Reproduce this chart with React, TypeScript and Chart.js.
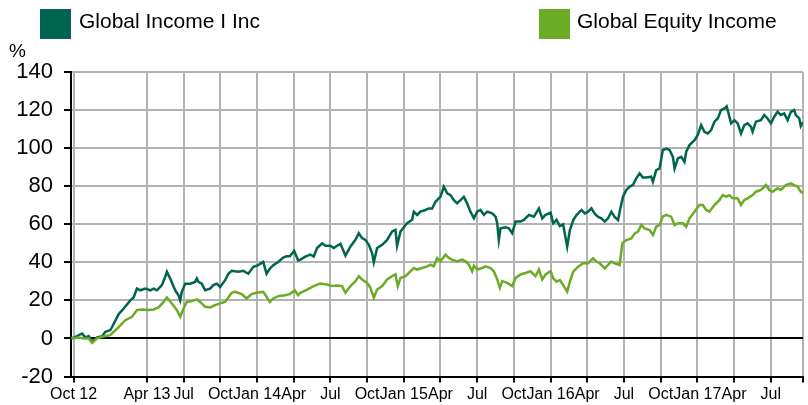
import React, { useEffect, useRef } from 'react';
import { Chart, registerables } from 'chart.js';

Chart.register(...registerables);

const seriesNames = ['Global Income I Inc', 'Global Equity Income'];
const seriesColors = ['#00654f', '#6cab25'];

// x values: months since start of Oct 2012
const tickMonths = [0, 6, 9, 12, 15, 18, 21, 24, 27, 30, 33, 36, 39, 42, 45, 48, 51, 54, 57];
const tickLabels = ['Oct 12', 'Apr 13', 'Jul', 'Oct', 'Jan 14', 'Apr', 'Jul', 'Oct', 'Jan 15', 'Apr', 'Jul', 'Oct', 'Jan 16', 'Apr', 'Jul', 'Oct', 'Jan 17', 'Apr', 'Jul'];
const xMin = -0.21;
const xMax = 59.64;
const yMin = -20;
const yMax = 140;
const yStep = 20;

const incomeMonths = [
  -0.17, 0.29, 0.7, 0.97, 1.24, 1.52, 1.92, 2.33, 2.6, 3.01, 3.15, 3.69, 4.1, 4.64, 4.91, 5.18, 5.46, 5.86, 6.27, 6.54,
  6.82, 7.22, 7.49, 7.63, 7.9, 8.31, 8.58, 8.72, 8.85, 9.13, 9.53, 9.94, 10.08, 10.21, 10.48, 10.76, 11.16, 11.43, 11.71, 11.98,
  12.39, 12.66, 12.93, 13.47, 13.88, 14.29, 14.7, 15.1, 15.51, 15.78, 16.05, 16.33, 16.73, 17.14, 17.41, 17.68, 18.04, 18.36,
  18.55, 18.95, 19.36, 19.64, 19.91, 20.32, 20.59, 21.0, 21.27, 21.55, 21.82, 22.23, 22.64, 23.05, 23.32, 23.59, 23.86, 24.14,
  24.41, 24.55, 24.82, 25.23, 25.64, 26.05, 26.32, 26.45, 26.73, 27.0, 27.27, 27.68, 27.82, 28.09, 28.36, 28.77, 29.05, 29.32,
  29.59, 29.86, 30.0, 30.27, 30.55, 30.82, 31.09, 31.36, 31.64, 31.91, 32.18, 32.45, 32.73, 33.0, 33.27, 33.55, 33.82, 34.23,
  34.5, 34.64, 34.77, 34.91, 35.32, 35.59, 35.86, 36.14, 36.55, 36.82, 37.23, 37.64, 38.05, 38.32, 38.59, 39.0,
  39.22, 39.49, 39.76, 40.03, 40.17, 40.36, 40.58, 40.85, 41.12, 41.53, 41.8, 42.07, 42.34, 42.61, 42.89, 43.16, 43.43, 43.7,
  43.97, 44.24, 44.52, 44.71, 44.92, 45.2, 45.47, 45.74, 46.01, 46.28, 46.55, 46.83, 47.23, 47.37, 47.64, 47.91, 48.18, 48.46,
  48.73, 49.0, 49.14, 49.41, 49.68, 49.95, 50.09, 50.36, 50.77, 51.04, 51.31, 51.58, 51.85, 52.13, 52.4, 52.67, 52.94, 53.21,
  53.4, 53.62, 53.76, 54.03, 54.3, 54.57, 54.84, 55.11, 55.39, 55.52, 55.79, 56.2, 56.47, 56.74, 57.02, 57.29, 57.56, 57.83,
  58.1, 58.38, 58.65, 58.92, 59.05, 59.33, 59.46, 59.62,
];
const incomeValues = [
  0, 1.2, 2.6, 0.5, 1.2, -1.7, 0.5, 1.2, 3.5, 4.4, 6, 12.8, 15.7, 20, 21.5, 26.2, 25.3, 26.2, 25.3, 26.2,
  25.3, 28, 32.3, 35, 31.5, 25.3, 22.7, 20, 24.5, 28.8, 28.8, 29.7, 31.5, 29.7, 28.8, 25.3, 26.2, 28, 28.8, 27,
  30.6, 34, 35.5, 35, 35.5, 34, 37.6, 38.5, 40.2, 34, 36.7, 38.5, 40.2, 42.5, 43.2, 43.2, 46, 41,
  41.4, 43, 44, 43.1, 47.5, 50, 48.7, 48.7, 47.5, 48.7, 49.7, 43.5, 48.3, 51.8, 55.3, 52.7, 51.8, 49.2,
  44.9, 40, 47.5, 49.2, 51.8, 56.2, 57, 48.7, 56.2, 58.4, 60.5, 62.3, 66.6, 64.9, 66.6, 67.5, 68.3, 68.3,
  71.8, 73.6, 74.4, 79.7, 76.2, 75.3, 72.7, 71, 72.7, 74.4, 71, 66.6, 63.1, 66.6, 67.5, 64.9, 66.6, 65.7,
  64, 60.5, 51.8, 57.9, 58.4, 57.9, 55.3, 61.4, 61.4, 62.3, 64.9, 64, 68.3, 63.1, 64.9, 66,
  60.5, 62.3, 59, 59.9, 54.9, 48.2, 57, 62.1, 64.8, 67.5, 65.7, 66.6, 68.4, 65.6, 63.9, 63.1, 61.4, 63.1,
  66.6, 63.9, 62.2, 68.4, 74.5, 78, 79.8, 80.7, 84.1, 86.7, 84.6, 84.6, 85, 82.3, 88.4, 89.3, 99, 99.8,
  99, 95.4, 89.3, 94.6, 95.4, 92.8, 98.1, 101.6, 104.2, 106.9, 112.1, 108.6, 107.7, 109.5, 113.9, 115.6, 120, 120.9,
  122, 116.5, 113, 114.7, 113, 107.7, 112.1, 113, 111.2, 108.6, 113.9, 114.7, 117.4, 115.6, 113, 116.5, 119.1, 117.4,
  118.2, 114.7, 119.1, 120, 117.4, 115.6, 111.6, 113.5,
];

const equityMonths = [
  -0.17, 0.43, 0.84, 1.24, 1.52, 1.92, 2.33, 3.01, 3.15, 3.69, 4.23, 4.78, 5.18, 5.59, 6.14, 6.54, 6.95, 7.36, 7.63, 8.04,
  8.45, 8.72, 8.99, 9.26, 9.67, 10.08, 10.35, 10.76, 11.16, 11.57, 11.98, 12.39, 12.93, 13.2, 13.75, 14.15, 14.56, 14.97, 15.51, 15.78,
  16.05, 16.33, 16.73, 17.28, 17.68, 18.09, 18.36,
  18.55, 19.09, 19.64, 20.18, 20.73, 21.14, 21.55, 21.95, 22.23, 22.64, 23.05, 23.32, 23.59, 24.0, 24.27, 24.55, 24.82, 25.23,
  25.64, 26.05, 26.32, 26.51, 26.73, 27.14, 27.41, 27.82, 28.09, 28.5, 28.91, 29.18, 29.45, 29.73, 30.0, 30.41, 30.68, 30.95,
  31.36, 31.77, 32.05, 32.32, 32.59, 32.73, 33.0, 33.41, 33.68, 34.09, 34.36, 34.64, 34.85, 35.05, 35.45, 35.86, 36.14, 36.55,
  36.95, 37.36, 37.77, 38.05, 38.32, 38.59, 39.0,
  39.22, 39.49, 39.76, 40.03, 40.36, 40.58, 40.85, 41.26, 41.66, 42.07, 42.48, 42.75, 43.02, 43.43, 43.7, 43.97, 44.24, 44.65,
  44.87, 45.2, 45.6, 45.88, 46.15, 46.42, 46.69, 47.1, 47.37, 47.64, 47.91, 48.18, 48.46, 48.86, 49.14, 49.41, 49.82, 50.09,
  50.36, 50.77, 51.17, 51.45, 51.72, 51.99, 52.4, 52.8, 53.08, 53.35, 53.62, 53.89, 54.3, 54.57, 54.84, 55.11, 55.52, 55.79,
  56.2, 56.61, 56.88, 57.15, 57.56, 57.83, 58.24, 58.65, 58.92, 59.19, 59.46, 59.62,
];
const equityValues = [
  0, 0.5, 0, 0, -2.3, 0, 0.9, 1.7, 2.6, 6, 9.6, 11.4, 14.9, 15.2, 14.9, 15.2, 16.3, 19.2, 21.5, 18.4,
  14.9, 11.4, 15.7, 19.2, 19.6, 20.5, 19.2, 16.6, 16.3, 17.5, 18.4, 19.2, 24, 24.5, 23.3, 21, 23.3, 24, 24.5, 21.9,
  19.2, 21, 22.2, 22.7, 23.3, 25.3, 22.7,
  24, 25.7, 27.5, 28.9, 28.3, 27.5, 27.8, 27.5, 24, 27.5, 30.1, 32.7, 31, 29.2, 26.6, 21.4, 25.7, 27.5,
  31, 32.7, 33.6, 27.5, 31.8, 32.7, 34.4, 37, 36.2, 37, 37.9, 38.8, 37.9, 42.3, 40.5, 44, 42.3, 41.4,
  40.5, 41.4, 40.5, 38.8, 35.3, 38.3, 36.2, 37, 37.9, 37, 35.3, 31, 26.6, 30.1, 29.2, 27.5, 31.8, 33.6,
  34.4, 35.3, 32.7, 36.2, 31, 33.6, 35.3,
  31.6, 29.8, 30.7, 28.1, 24.6, 29.8, 35.1, 37.7, 39.5, 39.5, 42.1, 40.4, 39.5, 36.8, 38.6, 40.4, 39.5, 38.6,
  50, 51.7, 52.5, 55.2, 56.1, 59.6, 57.8, 57, 54.4, 58.7, 59.6, 64, 64.9, 64, 59.6, 60.5, 60.5, 58.7,
  63.1, 66.6, 70.1, 70.1, 67.5, 66.6, 70.1, 72.7, 75.3, 74.5, 75.3, 73.6, 73.6, 70.1, 72.7, 73.6, 75.3, 77.1,
  78, 80.6, 78, 77.1, 78.9, 78, 80.6, 81.5, 80.6, 79.8, 77.1, 76.5,
];

const FONT = '"Liberation Sans", Arial, Helvetica, sans-serif';
const GRID = '#b3b3b3';

export default function App() {
  const canvasRef = useRef<HTMLCanvasElement | null>(null);

  useEffect(() => {
    const canvas = canvasRef.current;
    if (!canvas) return;
    const toPoints = (xs: number[], ys: number[]) => xs.map((x, i) => ({ x, y: ys[i] }));
    const chart = new Chart(canvas, {
      type: 'line',
      data: {
        datasets: [
          {
            label: seriesNames[1],
            data: toPoints(equityMonths, equityValues),
            borderColor: seriesColors[1],
            backgroundColor: seriesColors[1],
            borderWidth: 2.5,
            pointRadius: 0,
            tension: 0,
          },
          {
            label: seriesNames[0],
            data: toPoints(incomeMonths, incomeValues),
            borderColor: seriesColors[0],
            backgroundColor: seriesColors[0],
            borderWidth: 2.5,
            pointRadius: 0,
            tension: 0,
          },
        ],
      },
      options: {
        responsive: false,
        animation: false,
        devicePixelRatio: 1,
        layout: { padding: { top: 72, right: 5, left: 0, bottom: 0 } },
        plugins: { legend: { display: false }, tooltip: { enabled: false } },
        scales: {
          x: {
            type: 'linear',
            min: xMin,
            max: xMax,
            afterBuildTicks: (scale: any) => {
              scale.ticks = [...tickMonths, xMax].map((v) => ({ value: v }));
            },
            afterFit: (scale: any) => {
              scale.height = 28.5;
            },
            grid: {
              color: GRID,
              lineWidth: 2,
              tickColor: '#000',
              tickLength: 6,
              drawTicks: true,
            },
            border: { display: true, color: '#000', width: 2 },
            ticks: {
              autoSkip: false,
              maxRotation: 0,
              minRotation: 0,
              padding: 2,
              color: '#000',
              font: { family: FONT, size: 16 },
              callback: (value: any) => {
                const i = tickMonths.indexOf(Number(value));
                return i >= 0 ? tickLabels[i] : '';
              },
            },
          },
          y: {
            type: 'linear',
            min: yMin,
            max: yMax,
            afterFit: (scale: any) => {
              scale.width = 71;
            },
            grid: {
              color: (ctx: any) => (ctx.tick && ctx.tick.value === 0 ? '#000' : GRID),
              lineWidth: 2,
              tickColor: '#000',
              tickLength: 7,
            },
            border: { display: true, color: '#000', width: 2 },
            ticks: {
              stepSize: yStep,
              padding: 11,
              color: '#000',
              font: { family: FONT, size: 22 },
            },
          },
        },
      },
    });
    return () => chart.destroy();
  }, []);

  const legendText: React.CSSProperties = {
    position: 'absolute',
    top: 10,
    fontFamily: FONT,
    fontSize: 21,
    lineHeight: 1,
    color: '#000',
    whiteSpace: 'nowrap',
  };

  return (
    <div style={{ position: 'fixed', left: 0, top: 0, width: 808, height: 405, background: '#fff' }}>
      <canvas ref={canvasRef} width={808} height={405} style={{ display: 'block', position: 'absolute', left: 0, top: 0 }} />
      <div style={{ position: 'absolute', left: 40, top: 9, width: 31, height: 30, background: seriesColors[0] }} />
      <div style={{ ...legendText, left: 79 }}>{seriesNames[0]}</div>
      <div style={{ position: 'absolute', left: 539, top: 9, width: 31, height: 30, background: seriesColors[1] }} />
      <div style={{ ...legendText, left: 577 }}>{seriesNames[1]}</div>
      <div style={{ position: 'absolute', left: 9, top: 41, fontFamily: FONT, fontSize: 19, lineHeight: 1, color: '#000' }}>%</div>
    </div>
  );
}
